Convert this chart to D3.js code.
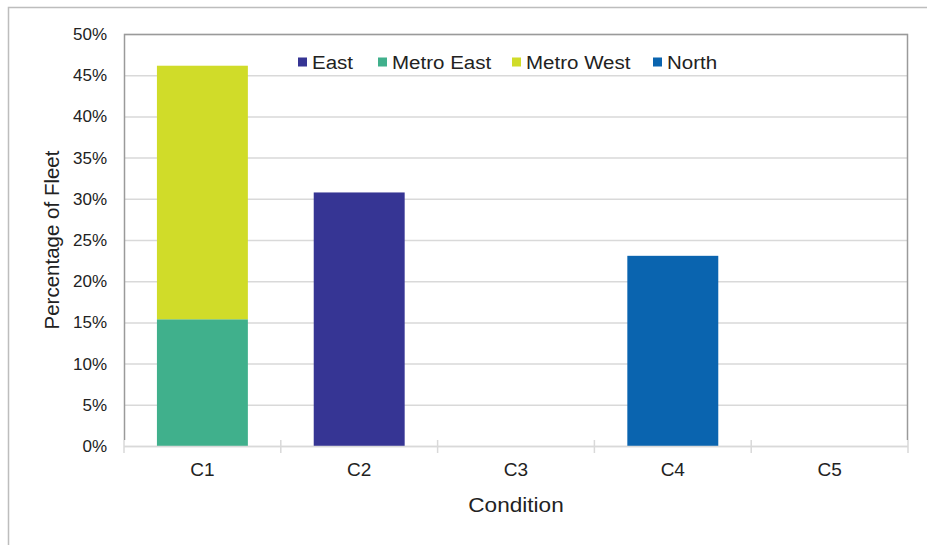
<!DOCTYPE html>
<html>
<head>
<meta charset="utf-8">
<script src="https://cdn.jsdelivr.net/npm/d3@7"></script>
<style>
  body { margin: 0; background: #fff; }
  text { font-family: "Liberation Sans", Arial, sans-serif; fill: #222; }
</style>
</head>
<body>
<svg id="chart" width="927" height="545"></svg>
<script>
// chart data
const categories = ["C1", "C2", "C3", "C4", "C5"];
const seriesNames = ["East", "Metro East", "Metro West", "North"];
const seriesColors = ["#363594", "#40B08C", "#D0DC29", "#0A64AF"];
// percent of fleet per series, one value per category
const eastValues = [0, 30.77, 0, 0, 0];
const metroEastValues = [15.38, 0, 0, 0, 0];
const metroWestValues = [30.77, 0, 0, 0, 0];
const northValues = [0, 0, 0, 23.08, 0];
const yTicks = [0, 5, 10, 15, 20, 25, 30, 35, 40, 45, 50];

const svg = d3.select("#chart");
const margin = { left: 124, top: 34, right: 19, bottom: 99 };
const W = +svg.attr("width"), H = +svg.attr("height");
const plotW = W - margin.left - margin.right;
const plotH = H - margin.top - margin.bottom;

// outer chart frame (cut off at right / bottom like the original)
svg.append("path")
    .attr("d", `M8.5,${H} V7.5 H${W}`)
    .attr("fill", "none")
    .attr("stroke", "#bdbdbd")
    .attr("stroke-width", 1.5);

const g = svg.append("g").attr("transform", `translate(${margin.left},${margin.top})`);

const x = d3.scaleBand().domain(categories).range([0, plotW]).paddingInner(0.42).paddingOuter(0.21);
const xEdge = d3.scaleLinear().domain([0, categories.length]).range([0, plotW]);
const y = d3.scaleLinear().domain([0, 50]).range([plotH, 0]);

// gridlines
g.append("g")
    .selectAll("line")
    .data(yTicks)
    .join("line")
    .attr("x1", 0).attr("x2", plotW)
    .attr("y1", d => y(d) + 0.5).attr("y2", d => y(d) + 0.5)
    .attr("stroke", "#d9d9d9")
    .attr("stroke-width", 1.5);

// plot area border (left, top, right)
g.append("path")
    .attr("d", `M0.5,${plotH - 6} V0.5 H${plotW - 0.5} V${plotH - 6}`)
    .attr("fill", "none")
    .attr("stroke", "#9a9a9a")
    .attr("stroke-width", 1.5);

// stacked bars
const rows = categories.map((c, i) => ({
    cat: c,
    "East": eastValues[i],
    "Metro East": metroEastValues[i],
    "Metro West": metroWestValues[i],
    "North": northValues[i]
}));
// Excel stacks in series order
const stack = d3.stack().keys(seriesNames);
const layers = stack(rows);
const color = d3.scaleOrdinal().domain(seriesNames).range(seriesColors);

g.selectAll("g.layer")
    .data(layers)
    .join("g")
    .attr("class", "layer")
    .attr("fill", d => color(d.key))
    .selectAll("rect")
    .data(d => d.filter(p => p[1] - p[0] > 0))
    .join("rect")
    .attr("x", d => x(d.data.cat))
    .attr("width", x.bandwidth())
    .attr("y", d => y(d[1]))
    .attr("height", d => y(d[0]) - y(d[1]));

// x axis line and category separator ticks
g.append("line")
    .attr("x1", 0).attr("x2", plotW)
    .attr("y1", plotH + 0.5).attr("y2", plotH + 0.5)
    .attr("stroke", "#d9d9d9").attr("stroke-width", 1.5);
g.append("g")
    .selectAll("line")
    .data(d3.range(categories.length + 1))
    .join("line")
    .attr("x1", d => xEdge(d)).attr("x2", d => xEdge(d))
    .attr("y1", plotH - 6).attr("y2", plotH + 7)
    .attr("stroke", "#d9d9d9").attr("stroke-width", 1.5);

// y tick labels
g.append("g")
    .selectAll("text")
    .data(yTicks)
    .join("text")
    .attr("x", -17)
    .attr("y", d => y(d))
    .attr("dy", "0.35em")
    .attr("text-anchor", "end")
    .style("font-size", "17px")
    .text(d => d + "%");

// x tick labels
g.append("g")
    .selectAll("text")
    .data(categories)
    .join("text")
    .attr("x", d => x(d) + x.bandwidth() / 2)
    .attr("y", plotH + 23)
    .attr("dy", "0.35em")
    .attr("text-anchor", "middle")
    .style("font-size", "19px")
    .text(d => d);

// axis titles (original text is a little wider than Arial, hence the scaleX)
svg.append("text")
    .attr("transform", `translate(${margin.left + plotW / 2},505) scale(1.13,1)`)
    .attr("dy", "0.35em")
    .attr("text-anchor", "middle")
    .style("font-size", "20px")
    .text("Condition");

svg.append("text")
    .attr("transform", `translate(52,240) rotate(-90)`)
    .attr("dy", "0.35em")
    .attr("text-anchor", "middle")
    .style("font-size", "20.5px")
    .text("Percentage of Fleet");

// legend
const legendX = [298, 378, 512, 653];
const legend = svg.append("g")
    .selectAll("g")
    .data(seriesNames)
    .join("g")
    .attr("transform", (d, i) => `translate(${legendX[i]},62)`);
legend.append("rect")
    .attr("x", 0).attr("y", -4.5)
    .attr("width", 9).attr("height", 9)
    .attr("fill", d => color(d));
legend.append("text")
    .attr("transform", "translate(14,0) scale(1.08,1)")
    .attr("dy", "0.35em")
    .style("font-size", "19px")
    .text(d => d);
</script>
</body>
</html>
